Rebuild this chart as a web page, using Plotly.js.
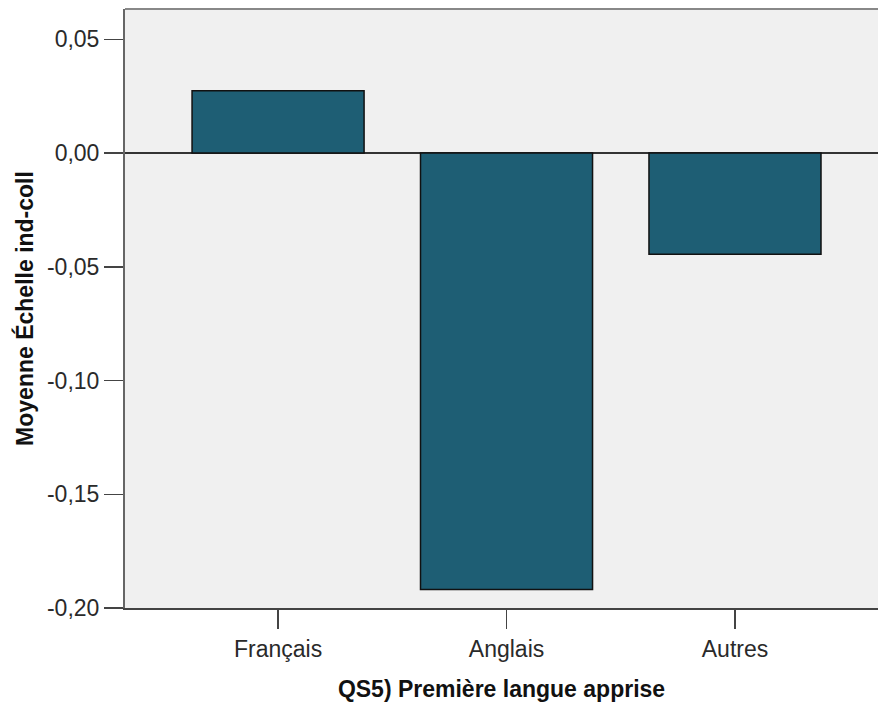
<!DOCTYPE html>
<html>
<head>
<meta charset="utf-8">
<script src="https://cdn.plot.ly/plotly-3.0.1.min.js"></script>
<style>html,body{margin:0;padding:0;background:#fff;}#chart{width:878px;height:705px;}</style>
</head>
<body>
<div id="chart"></div>
<script>
const categories = ["Français", "Anglais", "Autres"];
const means = [0.0274, -0.1919, -0.0445];
const yTickValues = [-0.20, -0.15, -0.10, -0.05, 0.00, 0.05];
const yTickLabels = ["-0,20", "-0,15", "-0,10", "-0,05", "0,00", "0,05"];
const xTitle = "QS5) Première langue apprise";
const yTitle = "Moyenne Échelle ind-coll";

const fontFam = "'Liberation Sans', Arial, sans-serif";

const trace = {
  type: "bar",
  x: categories,
  y: means,
  width: 0.753,
  marker: { color: "#1e5e74", line: { color: "#111", width: 1.5 } },
  hoverinfo: "skip"
};

const layout = {
  width: 878,
  height: 705,
  margin: { l: 125, r: 0, t: 9, b: 97 },
  paper_bgcolor: "#ffffff",
  plot_bgcolor: "#f0f0f0",
  showlegend: false,
  font: { family: fontFam, size: 23, color: "#222" },
  xaxis: {
    type: "category",
    range: [-0.67, 2.626],
    showline: true, linecolor: "#444", linewidth: 2,
    ticks: "outside", ticklen: 19, tickwidth: 1.5, tickcolor: "#444",
    showgrid: false, zeroline: false,
    tickfont: { family: fontFam, size: 23, color: "#2a2a2a" },
    title: { text: "<b>" + xTitle + "</b>", font: { family: fontFam, size: 23, color: "#111" }, standoff: 20 }
  },
  yaxis: {
    range: [-0.2, 0.0633],
    tickvals: yTickValues, ticktext: yTickLabels,
    showline: true, linecolor: "#666", linewidth: 2,
    ticks: "outside", ticklen: 19, tickwidth: 1.5, tickcolor: "#444",
    showgrid: false,
    zeroline: true, zerolinecolor: "#333", zerolinewidth: 1.5,
    tickfont: { family: fontFam, size: 23, color: "#2a2a2a" },
    title: { text: "<b>" + yTitle + "</b>", font: { family: fontFam, size: 23, color: "#111" }, standoff: 7 }
  },
  shapes: [
    { type: "line", xref: "paper", yref: "paper", x0: 0, x1: 1, y0: 1, y1: 1, line: { color: "#888", width: 2 } }
  ]
};

Plotly.newPlot("chart", [trace], layout, { displayModeBar: false, staticPlot: true });
</script>
</body>
</html>
